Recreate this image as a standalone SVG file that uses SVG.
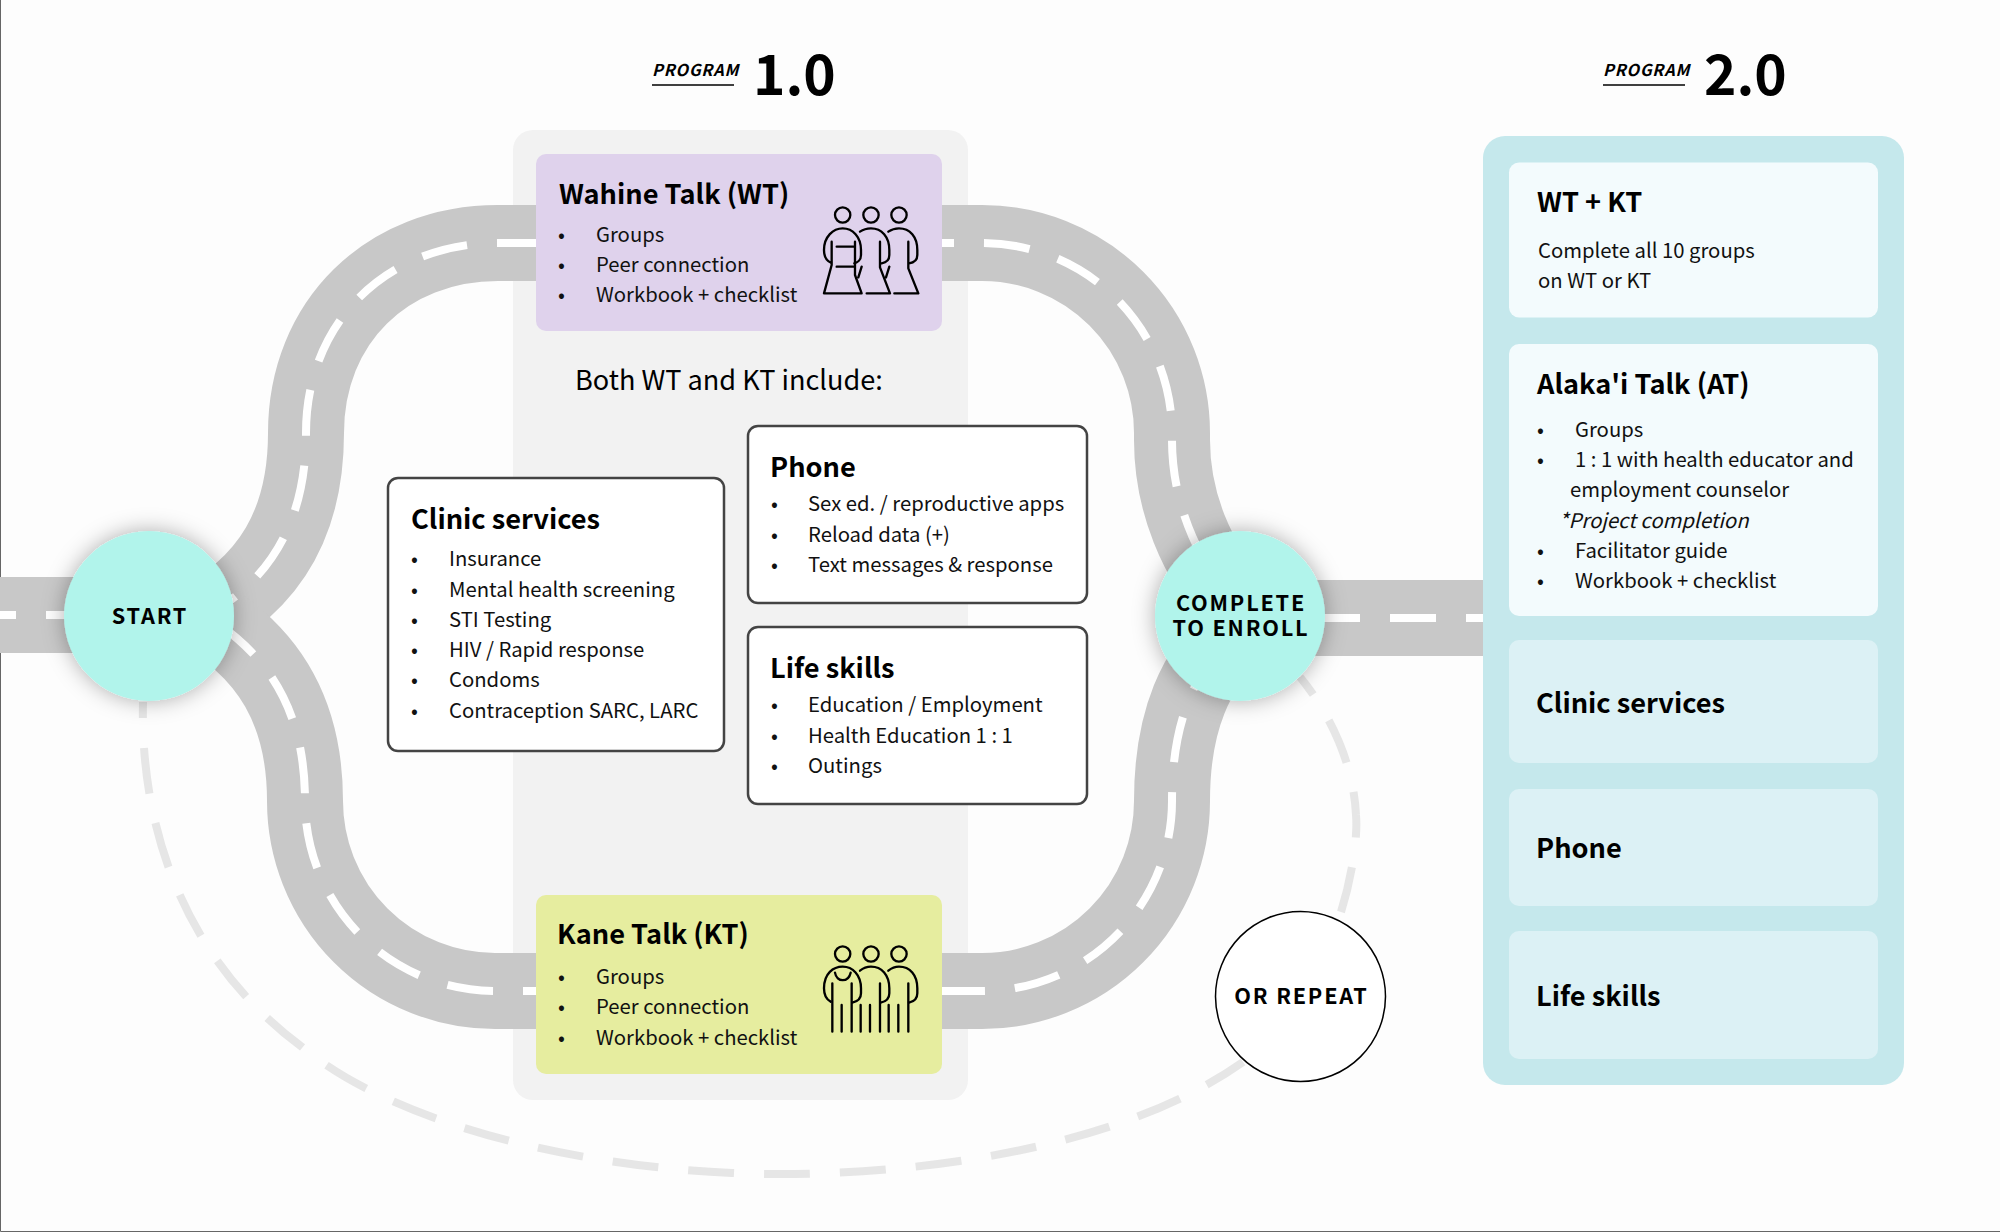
<svg xmlns="http://www.w3.org/2000/svg" width="2000" height="1232" viewBox="0 0 2000 1232">
<style>
text{font-family:"Noto Sans CJK JP","Noto Sans",sans-serif;fill:#000}
.t{font-size:27.2px;font-weight:700}
.b{font-size:20.3px;font-weight:400;fill:#111}
.c{font-size:21.7px;font-weight:700;letter-spacing:1.8px;text-anchor:middle}
.p{font-size:16.3px;font-weight:700;font-style:italic;letter-spacing:.8px}
.n{font-size:55px;font-weight:700}
.card{fill:#fff;stroke:#444;stroke-width:2.5}
.road{fill:none;stroke:#c8c8c8;stroke-width:76}
.lane{fill:none;stroke:#fff;stroke-width:8;stroke-dasharray:46 30}
.rep{fill:none;stroke:#e6e6e6;stroke-width:8;stroke-dasharray:46 30}
.icon{fill:none;stroke:#000;stroke-width:7;stroke-linecap:round;stroke-linejoin:round}
.soft{fill:#dcf1f5}
.pale{fill:#f3fbfd}
</style>
<defs>
<filter id="sh" x="-40%" y="-40%" width="180%" height="180%"><feDropShadow dx="0" dy="0" stdDeviation="11" flood-color="#000" flood-opacity="0.32"/></filter>
</defs>
<rect width="2000" height="1232" fill="#fdfdfd"/>
<path d="M0.5,0V1231.5H2000" fill="none" stroke="#666" stroke-width="1"/>
<rect id="panel-1" x="513" y="130" width="455" height="970" rx="20" fill="#f2f2f2"/>
<rect id="panel-2" x="1483" y="136" width="421" height="949" rx="22" fill="#c5e8ec"/>
<g id="connectors">
<path class="road" d="M0,615H120"/>
<path class="road" d="M1300,618H1483"/>
<path class="road" d="M536,243H498C387,243 306,322 306,433C306,520 272,585 190,625"/>
<path class="road" d="M536,991H495A190 190 0 0 1 305,801C305,715 272,650 190,607"/>
<path class="road" d="M942,243H982A190 190 0 0 1 1172,433V440C1172,500 1195,560 1240,610"/>
<path class="road" d="M942,991H982A190 190 0 0 0 1172,801C1172,720 1195,670 1240,625"/>
<path class="lane" stroke-dashoffset="30" d="M0,615H120"/>
<path class="lane" stroke-dashoffset="62" d="M1300,618H1483"/>
<path class="lane" stroke-dashoffset="7" d="M536,243H498C387,243 306,322 306,433C306,520 272,585 190,625"/>
<path class="lane" stroke-dashoffset="33" d="M536,991H495A190 190 0 0 1 305,801C305,715 272,650 190,607"/>
<path class="lane" stroke-dashoffset="34" d="M942,243H982A190 190 0 0 1 1172,433V440C1172,500 1195,560 1240,610"/>
<path class="lane" stroke-dashoffset="3" d="M942,991H982A190 190 0 0 0 1172,801C1172,720 1195,670 1240,625"/>
<path class="rep" stroke-dashoffset="30" d="M143,702C140,830 185,960 302,1047C390,1120 560,1165 732,1173C830,1178 1090,1170 1243,1062"/>
<path class="rep" d="M1341,912C1351,880 1358,840 1356,815C1354,770 1335,720 1300,677"/>
</g>
<g id="program-1">
<text class="p" x="652" y="76">PROGRAM</text>
<path d="M652,85H734" stroke="#000" stroke-width="1.5"/>
<text class="n" x="753" y="95">1.0</text>
</g>
<g id="program-2">
<text class="p" x="1603" y="76">PROGRAM</text>
<path d="M1603,85H1685" stroke="#000" stroke-width="1.5"/>
<text class="n" x="1704" y="95">2.0</text>
</g>
<g id="wahine-talk">
<rect x="536" y="154" width="406" height="177" rx="10" fill="#dfd2ec"/>
<text class="t" x="559" y="204">Wahine Talk (WT)</text>
<text class="b" x="558" y="242">•</text><text class="b" x="596" y="242">Groups</text>
<text class="b" x="558" y="272">•</text><text class="b" x="596" y="272">Peer connection</text>
<text class="b" x="558" y="302">•</text><text class="b" x="596" y="302">Workbook + checklist</text>
<g class="icon" transform="translate(800,190) scale(.3333)">
<circle cx="128" cy="75" r="23"/><circle cx="213" cy="75" r="23"/><circle cx="297" cy="75" r="23"/>
<path d="M93,218C78,212 72,200 72,180C72,140 100,115 128,115C158,115 183,140 183,180V195C183,210 172,218 163,220"/>
<path d="M95,155V225L72,310H185L165,255V155M110,170H160M110,230H160M185,230L175,262"/>
<path d="M180,125C190,118 200,115 213,115C245,115 268,140 268,180V195C268,210 257,218 245,220M240,155V232L270,310H200M268,230L258,262"/>
<path d="M265,125C275,118 285,115 297,115C330,115 352,140 352,180V195C352,210 342,218 327,220M325,155V235L355,310H283"/>
</g>
</g>
<g id="both-label"><text x="575" y="390" font-size="27.1" fill="#111">Both WT and KT include:</text></g>
<g id="clinic-services">
<rect class="card" x="388" y="478" width="336" height="273" rx="10"/>
<text class="t" x="411" y="529">Clinic services</text>
<text class="b" x="411" y="566">•</text><text class="b" x="449" y="566">Insurance</text>
<text class="b" x="411" y="597">•</text><text class="b" x="449" y="597">Mental health screening</text>
<text class="b" x="411" y="627">•</text><text class="b" x="449" y="627">STI Testing</text>
<text class="b" x="411" y="657">•</text><text class="b" x="449" y="657">HIV / Rapid response</text>
<text class="b" x="411" y="687">•</text><text class="b" x="449" y="687">Condoms</text>
<text class="b" x="411" y="718">•</text><text class="b" x="449" y="718">Contraception SARC, LARC</text>
</g>
<g id="phone">
<rect class="card" x="748" y="426" width="339" height="177" rx="10"/>
<text class="t" x="770" y="477">Phone</text>
<text class="b" x="771" y="511">•</text><text class="b" x="808" y="511">Sex ed. / reproductive apps</text>
<text class="b" x="771" y="542">•</text><text class="b" x="808" y="542">Reload data (+)</text>
<text class="b" x="771" y="572">•</text><text class="b" x="808" y="572">Text messages &amp; response</text>
</g>
<g id="life-skills">
<rect class="card" x="748" y="627" width="339" height="177" rx="10"/>
<text class="t" x="770" y="678">Life skills</text>
<text class="b" x="771" y="712">•</text><text class="b" x="808" y="712">Education / Employment</text>
<text class="b" x="771" y="743">•</text><text class="b" x="808" y="743">Health Education 1 : 1</text>
<text class="b" x="771" y="773">•</text><text class="b" x="808" y="773">Outings</text>
</g>
<g id="kane-talk">
<rect x="536" y="895" width="406" height="179" rx="10" fill="#e6ed9f"/>
<text class="t" x="557" y="944">Kane Talk (KT)</text>
<text class="b" x="558" y="984">•</text><text class="b" x="596" y="984">Groups</text>
<text class="b" x="558" y="1014">•</text><text class="b" x="596" y="1014">Peer connection</text>
<text class="b" x="558" y="1045">•</text><text class="b" x="596" y="1045">Workbook + checklist</text>
<g class="icon" transform="translate(800,930) scale(.3333)">
<circle cx="128" cy="72" r="23"/><circle cx="213" cy="72" r="23"/><circle cx="297" cy="72" r="23"/>
<path d="M92,215C78,208 72,195 72,175C72,130 100,110 128,110C158,110 183,135 183,175V190C183,205 172,215 157,218M105,128C110,158 145,158 152,128"/>
<path d="M180,122C190,114 200,110 213,110C245,110 268,135 268,175V190C268,205 258,215 242,218"/>
<path d="M265,122C275,114 285,110 297,110C330,110 352,135 352,175V190C352,205 342,215 327,218"/>
<path d="M97,160V305M125,225V305M155,160V305M182,225V305M210,225V305M240,160V305M266,225V305M295,225V305M325,160V305"/>
</g>
</g>
<g id="start">
<circle cx="149" cy="616" r="85" fill="#b1f4eb" filter="url(#sh)"/>
<text class="c" x="150" y="624">START</text>
</g>
<g id="complete">
<circle cx="1240" cy="616" r="85" fill="#b1f4eb" filter="url(#sh)"/>
<text class="c" x="1241" y="611">COMPLETE</text>
<text class="c" x="1241" y="636">TO ENROLL</text>
</g>
<g id="or-repeat">
<circle cx="1300.5" cy="996.5" r="85" fill="#fff" stroke="#000" stroke-width="1.5"/>
<text class="c" x="1301.500" y="1004">OR REPEAT</text>
</g>
<g id="wt-kt">
<rect class="pale" x="1509" y="162.500" width="369" height="155" rx="10"/>
<text class="t" x="1537" y="212">WT + KT</text>
<text class="b" x="1538" y="258">Complete all 10 groups</text>
<text class="b" x="1538" y="288">on WT or KT</text>
</g>
<g id="alakai-talk">
<rect class="pale" x="1509" y="344" width="369" height="272" rx="10"/>
<text class="t" x="1537" y="394">Alaka'i Talk (AT)</text>
<text class="b" x="1537" y="437">•</text><text class="b" x="1575" y="437">Groups</text>
<text class="b" x="1537" y="467">•</text><text class="b" x="1575" y="467">1 : 1 with health educator and</text>
<text class="b" x="1570" y="497">employment counselor</text>
<text class="b" x="1559" y="528" font-style="italic">*Project completion</text>
<text class="b" x="1537" y="558">•</text><text class="b" x="1575" y="558">Facilitator guide</text>
<text class="b" x="1537" y="588">•</text><text class="b" x="1575" y="588">Workbook + checklist</text>
</g>
<g id="clinic-2"><rect class="soft" x="1509" y="640" width="369" height="123" rx="10"/><text class="t" x="1536" y="713">Clinic services</text></g>
<g id="phone-2"><rect class="soft" x="1509" y="789" width="369" height="117" rx="10"/><text class="t" x="1536" y="858">Phone</text></g>
<g id="life-2"><rect class="soft" x="1509" y="931" width="369" height="128" rx="10"/><text class="t" x="1536" y="1006">Life skills</text></g>
</svg>
